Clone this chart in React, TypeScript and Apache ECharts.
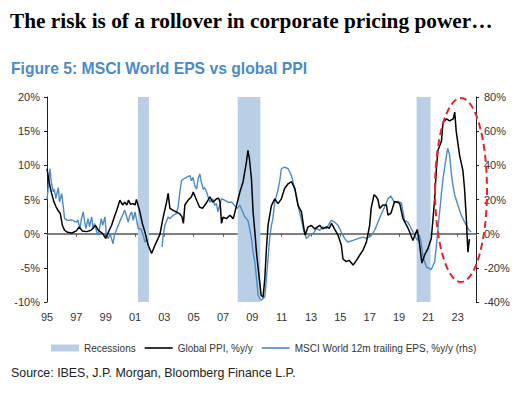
import React, { useEffect, useRef } from "react";
import * as echarts from "echarts";

const titleText = "The risk is of a rollover in corporate pricing power…";
const subtitleText = "Figure 5: MSCI World EPS vs global PPI";
const sourceText = "Source: IBES, J.P. Morgan, Bloomberg Finance L.P.";

const recessionStart = [2001.2, 2008.0, 2020.2];
const recessionEnd = [2001.95, 2009.55, 2021.15];

const ppiYears = [
  1995.0, 1995.15, 1995.3, 1995.45, 1995.6, 1995.75, 1995.9, 1996.05, 1996.2, 1996.4,
  1996.7, 1997.0, 1997.2, 1997.4, 1997.7, 1998.0, 1998.3, 1998.5, 1998.8, 1999.0,
  1999.2, 1999.4, 1999.6, 1999.75, 1999.97, 2000.15, 2000.3, 2000.45, 2000.55, 2000.7,
  2000.86, 2001.0, 2001.1, 2001.33, 2001.5, 2001.67, 2001.9, 2002.13, 2002.36, 2002.55,
  2002.7, 2002.9, 2003.15, 2003.26, 2003.38, 2003.6, 2003.8, 2004.06, 2004.2, 2004.3,
  2004.4, 2004.62, 2004.85, 2004.97, 2005.2, 2005.4, 2005.6, 2005.9, 2006.1, 2006.3,
  2006.56, 2006.7, 2006.8, 2006.9, 2007.0, 2007.24, 2007.47, 2007.7, 2007.92, 2008.15,
  2008.37, 2008.6, 2008.7, 2008.8, 2008.94, 2009.05, 2009.17, 2009.28, 2009.4, 2009.6,
  2009.73, 2009.85, 2009.96, 2010.07, 2010.3, 2010.53, 2010.75, 2010.98, 2011.2, 2011.44,
  2011.67, 2011.9, 2012.12, 2012.35, 2012.5, 2012.6, 2012.8, 2013.03, 2013.26, 2013.45,
  2013.6, 2013.8, 2014.05, 2014.25, 2014.4, 2014.6, 2014.84, 2015.07, 2015.18, 2015.4,
  2015.6, 2015.87, 2016.1, 2016.3, 2016.55, 2016.78, 2017.0, 2017.1, 2017.3, 2017.45,
  2017.56, 2017.68, 2017.9, 2018.14, 2018.25, 2018.45, 2018.7, 2018.9, 2019.05, 2019.27,
  2019.5, 2019.7, 2019.95, 2020.1, 2020.25, 2020.4, 2020.56, 2020.75, 2020.97, 2021.2,
  2021.3, 2021.43, 2021.55, 2021.66, 2021.8, 2021.9, 2022.0, 2022.24, 2022.45, 2022.7,
  2022.8, 2022.9, 2023.13, 2023.36, 2023.47, 2023.58, 2023.7, 2023.8,
];
const ppiValues = [
  9.5, 7.5, 6.0, 4.8, 4.0, 3.4, 3.0, 1.2, 0.5, 0.2,
  0.1, 0.4, 1.0, 0.4, 0.3, 0.5, 1.2, 0.5, 0.0, -0.7,
  0.3, 1.2, 2.5, 3.4, 4.9, 4.2, 4.6, 4.2, 4.9, 4.3,
  4.4, 4.2, 5.0, 3.2, 1.5, 0.3, -1.7, -2.9, -1.7, -0.8,
  -0.1, 2.2, 4.6, 5.9, 3.7, 3.4, 3.2, 2.9, 2.5, 1.5,
  4.2, 4.9, 5.4, 6.1, 4.9, 3.9, 3.7, 4.6, 5.4, 4.6,
  5.1, 5.2, 4.6, 1.5, 2.4, 2.2, 2.7, 2.2, 4.1, 6.1,
  7.6, 10.5, 12.2, 11.0, 8.0, 3.2, 0.3, -2.7, -5.1, -9.0,
  -9.3, -6.6, -2.2, 1.2, 4.1, 5.1, 4.4, 5.1, 6.6, 7.3,
  7.6, 6.6, 4.1, 3.2, 1.0, -0.2, 1.0, 1.2, 0.7, 1.0,
  1.2, 0.7, 1.0, 0.8, 1.5, 0.7, -0.2, -1.7, -3.7, -4.1,
  -3.9, -4.6, -3.9, -3.2, -2.4, -1.2, 1.2, 3.7, 5.7, 5.4,
  5.0, 3.7, 4.2, 4.2, 2.7, 3.0, 4.7, 4.6, 4.4, 2.2,
  1.3, 0.4, -1.0, -0.1, 0.6, -1.5, -4.3, -3.1, -2.2, -0.7,
  1.7, 5.1, 9.5, 12.2, 13.0, 13.6, 16.3, 16.8, 16.5, 16.8,
  17.8, 15.0, 11.5, 9.2, 6.5, 2.6, -2.7, -0.8,
];

const epsYears = [
  1995.0, 1995.1, 1995.2, 1995.3, 1995.43, 1995.5, 1995.6, 1995.77, 1995.85, 1996.0,
  1996.1, 1996.2, 1996.4, 1996.7, 1996.9, 1997.0, 1997.1, 1997.25, 1997.35, 1997.47,
  1997.55, 1997.65, 1997.8, 1997.9, 1998.04, 1998.15, 1998.25, 1998.4, 1998.5, 1998.6,
  1998.7, 1998.8, 1998.95, 1999.05, 1999.18, 1999.3, 1999.5, 1999.6, 1999.86, 2000.05,
  2000.3, 2000.54, 2000.65, 2000.77, 2000.88, 2001.0, 2001.22, 2001.4, 2001.56, 2001.67,
  2001.8, 2002.3, 2002.85, 2002.92, 2003.04, 2003.26, 2003.38, 2003.6, 2003.8, 2003.94,
  2004.06, 2004.17, 2004.3, 2004.5, 2004.74, 2004.85, 2004.95, 2005.08, 2005.2, 2005.3,
  2005.42, 2005.5, 2005.65, 2005.75, 2005.88, 2006.1, 2006.3, 2006.44, 2006.56, 2006.65,
  2006.9, 2007.1, 2007.35, 2007.6, 2007.8, 2007.95, 2008.15, 2008.3, 2008.49, 2008.7,
  2008.82, 2008.94, 2009.05, 2009.17, 2009.28, 2009.4, 2009.5, 2009.62, 2009.85, 2009.96,
  2010.07, 2010.18, 2010.3, 2010.4, 2010.53, 2010.76, 2010.87, 2010.98, 2011.2, 2011.44,
  2011.67, 2011.9, 2012.12, 2012.35, 2012.5, 2012.69, 2012.9, 2013.14, 2013.37, 2013.6,
  2013.8, 2014.05, 2014.37, 2014.6, 2014.84, 2015.07, 2015.3, 2015.5, 2015.87, 2016.2,
  2016.55, 2016.8, 2017.12, 2017.34, 2017.57, 2017.8, 2018.02, 2018.25, 2018.45, 2018.7,
  2018.93, 2019.16, 2019.38, 2019.6, 2019.84, 2020.07, 2020.25, 2020.4, 2020.5, 2020.63,
  2020.86, 2021.2, 2021.43, 2021.55, 2021.66, 2021.77, 2021.9, 2022.0, 2022.1, 2022.22,
  2022.32, 2022.45, 2022.56, 2022.68, 2022.8, 2023.02, 2023.25, 2023.47, 2023.7, 2023.8,
  2023.92,
];
const epsValues: (number | null)[] = [
  20, 28, 38, 30, 24.5, 26, 20.5, 27, 18.5, 23.5,
  16.6, 8.8, 7.8, 8, 7, 6.8, 8, 2.9, 8.8, 12.7,
  8, 2.9, 8.8, 4, 9.8, 2.9, 6, 0.8, -0.8, 4,
  8.8, 4.9, 9.8, -0.8, -2.9, 0, -5.9, -0.8, 4.9, 8.8,
  13.7, 6.8, 10.8, 12.8, 7.8, 12.8, 2.9, 2.9, -0.8, -4.9,
  -2.9, null, -7.8, -0.8, 4.9, 9.8, 8.8, 10.8, 11.6, 15.6,
  24.4, 31, 32, 33, 34, 31, 33, 28, 26, 32,
  35, 31, 26, 27, 24.4, 18.4, 20.5, 16.6, 17.6, 12.8,
  20.5, 19.6, 18.4, 18.4, 16.4, 14.8, 16.6, 13.6, 9.8, 7.8,
  2.9, -2.9, -10.7, -16.6, -26, -36, -38, -39, -37, -26,
  -14.6, -2.9, 4.9, 8.8, 18.5, 26, 31, 38, 39, 38,
  34, 26, 16.6, 7.8, 2, -2.9, -0.8, 0, 2.9, 2,
  3.9, 2.9, 7.8, 6.8, 4.9, 0.8, -2.9, -4.9, -3.9, -2.9,
  -2, -2.9, -1, 2, 6.8, 11.7, 15.6, 20.5, 22, 18,
  18.9, 18, 7.8, 6.8, 2.9, -0.8, -3.9, -0.8, -4.9, -13,
  -19.5, -21, -16.6, -6.8, 2.9, 12.7, 24.4, 32, 38, 45,
  50, 46, 36, 28, 22.5, 16.6, 10.7, 6.8, 2.9, 2,
  1,
];

const leftMin = -10, leftMax = 20, leftStep = 5;
const rightMin = -40, rightMax = 80, rightStep = 20;
const xMin = 1995, xMax = 2024.25, xStep = 2;

const SANS = "'Liberation Sans', Arial, sans-serif";
const SERIF = "'Liberation Serif', 'Times New Roman', serif";
const BLUE = "#4a8bc8";
const BAND = "#b8cfe6";
const LINE_ICON = "path://M0,0H28V1.6H0Z";

export default function App() {
  const ref = useRef<HTMLDivElement>(null);
  useEffect(() => {
    if (!ref.current) return;
    const chart = echarts.init(ref.current, undefined, { renderer: "svg" });
    const ppiData = ppiYears.map((y, i) => [y, ppiValues[i]]);
    const epsData = epsYears.map((y, i) => [y, epsValues[i] === null ? "-" : epsValues[i]]);
    const yearLabel = (v: number) =>
      Math.abs(v - Math.round(v)) > 0.01 ? "" : String(Math.round(v) % 100).padStart(2, "0");
    chart.setOption({
      animation: false,
      title: [
        {
          text: titleText, left: 5, top: 5,
          textStyle: { fontFamily: SERIF, fontWeight: "bold", fontSize: 21.3, color: "#000" },
        },
        {
          text: subtitleText, left: 6, top: 55,
          textStyle: { fontFamily: SANS, fontWeight: "bold", fontSize: 15.7, color: BLUE },
        },
        {
          text: sourceText, left: 6, top: 362,
          textStyle: { fontFamily: SANS, fontWeight: "normal", fontSize: 12.4, color: "#222" },
        },
      ],
      grid: { left: 47, right: 51, top: 97, bottom: 92 },
      legend: {
        left: 46, top: 338, width: 480, itemWidth: 28, itemHeight: 7, itemGap: 9,
        textStyle: { fontFamily: SANS, fontSize: 10, color: "#333" },
        data: [
          { name: "Recessions", icon: "rect" },
          { name: "Global PPI, %y/y", icon: LINE_ICON },
          { name: "MSCI World 12m trailing EPS, %y/y (rhs)", icon: LINE_ICON },
        ],
      },
      xAxis: [
        {
          type: "value", min: xMin, max: xMax, interval: xStep,
          axisLine: { show: false }, axisTick: { show: false }, splitLine: { show: false },
          axisLabel: { formatter: yearLabel, fontFamily: SANS, fontSize: 11, color: "#333", margin: 9 },
        },
        {
          type: "value", min: xMin, max: xMax, interval: xStep, position: "bottom",
          axisLine: { show: true, onZero: true, onZeroAxisIndex: 0, lineStyle: { color: "#555", width: 1.5 } },
          axisTick: { show: true, length: 3, lineStyle: { color: "#555" } },
          axisLabel: { show: false }, splitLine: { show: false },
        },
      ],
      yAxis: [
        {
          type: "value", min: leftMin, max: leftMax, interval: leftStep, position: "left",
          axisLine: { show: true, onZero: false, lineStyle: { color: "#222", width: 1 } },
          axisTick: { show: true, length: 3, lineStyle: { color: "#222" } },
          splitLine: { show: false },
          axisLabel: { formatter: "{value}%", fontFamily: SANS, fontSize: 11, color: "#333", margin: 7 },
        },
        {
          type: "value", min: rightMin, max: rightMax, interval: rightStep, position: "right",
          axisLine: { show: true, onZero: false, lineStyle: { color: "#222", width: 1 } },
          axisTick: { show: true, length: 3, lineStyle: { color: "#222" } },
          splitLine: { show: false },
          axisLabel: { formatter: "{value}%", fontFamily: SANS, fontSize: 11, color: "#333", margin: 8 },
        },
      ],
      series: [
        {
          name: "Recessions", type: "line", data: [], xAxisIndex: 0, yAxisIndex: 0,
          symbol: "none", itemStyle: { color: BAND }, lineStyle: { color: BAND },
          markArea: {
            silent: true, itemStyle: { color: BAND },
            data: recessionStart.map((s, i) => [{ xAxis: s }, { xAxis: recessionEnd[i] }]),
          },
        },
        {
          name: "MSCI World 12m trailing EPS, %y/y (rhs)", type: "line", data: epsData,
          xAxisIndex: 0, yAxisIndex: 1, symbol: "none", connectNulls: false,
          lineStyle: { color: BLUE, width: 1.4 }, itemStyle: { color: BLUE }, z: 3,
        },
        {
          name: "Global PPI, %y/y", type: "line", data: ppiData,
          xAxisIndex: 0, yAxisIndex: 0, symbol: "none",
          lineStyle: { color: "#000", width: 1.5 }, itemStyle: { color: "#000" }, z: 4,
        },
      ],
      graphic: [
        {
          type: "ellipse", z: 100,
          shape: { cx: 461, cy: 190, rx: 26, ry: 92 },
          style: { fill: "none", stroke: "#e8232a", lineWidth: 2, lineDash: [7, 4] },
        },
      ],
    });
    return () => chart.dispose();
  }, []);
  return <div ref={ref} style={{ width: 527, height: 394, position: "absolute", left: 0, top: 0 }} />;
}
